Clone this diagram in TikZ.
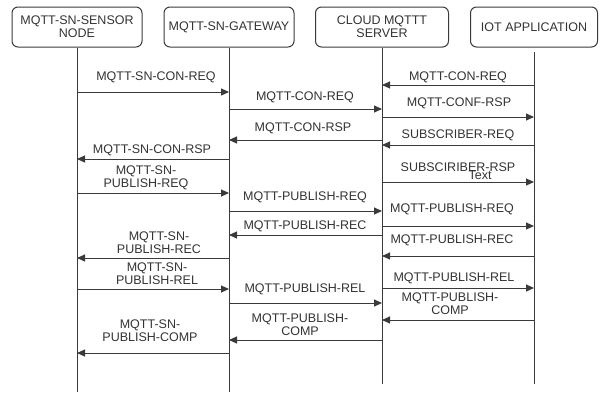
\documentclass[tikz,border=0pt]{standalone}
\usepackage{fontspec}
\setmainfont{Liberation Sans}
\usetikzlibrary{arrows.meta}
\definecolor{ink}{HTML}{3A3A3A}
\definecolor{txt}{HTML}{333333}

% one message: name, from lifeline, to lifeline, y, label x, label y, label text
\newcommand\msg[7]{%
  \draw[msgline] (#2 |- 0,#4) -- (#3 |- 0,#4);
  \node[lbl] (#1) at (#5,#6) {#7};}

\begin{document}
\begin{tikzpicture}[x=1pt,y=-1pt,
  actor/.style={draw=ink, line width=1pt, rounded corners=6pt, minimum height=40pt,
    inner sep=0pt, align=center, text=txt, font=\fontsize{12.5}{13}\selectfont},
  life/.style={draw=ink, line width=1pt},
  msgline/.style={draw=ink, line width=1pt, -{Triangle[length=8pt,width=7pt]}},
  lbl/.style={inner sep=0pt, align=center, text=txt, font=\fontsize{12.5}{13}\selectfont}]
\useasboundingbox (0,0) rectangle (600,392);

% participants
\node[actor, minimum width=130pt] (b1) at (77,27)    {MQTT-SN-SENSOR\\NODE};
\node[actor, minimum width=130pt] (b2) at (229,27)   {MQTT-SN-GATEWAY};
\node[actor, minimum width=133pt] (b3) at (382,27)   {CLOUD MQTTT\\SERVER};
\node[actor, minimum width=127pt] (b4) at (534,27)   {IOT APPLICATION};

% lifelines
\draw[life] (b1.south) -- (b1 |- 0,392);
\draw[life] (b2.south) -- (b2 |- 0,392);
\draw[life] (b3.south) -- (b3 |- 0,384);
\draw[life] ([yshift=-4pt]b4.south) -- (b4 |- 0,384);

% messages
\msg{m1}{b1}{b2}{92}{156}{77}{MQTT-SN-CON-REQ}
\msg{m2}{b4}{b3}{85}{458}{77}{MQTT-CON-REQ}
\msg{m3}{b2}{b3}{109}{305}{97}{MQTT-CON-REQ}
\msg{m4}{b3}{b4}{117}{459}{103}{MQTT-CONF-RSP}
\msg{m5}{b3}{b2}{140}{303}{128}{MQTT-CON-RSP}
\msg{m6}{b4}{b3}{145}{458}{135}{SUBSCRIBER-REQ}
\msg{m7}{b2}{b1}{159}{152}{150}{MQTT-SN-CON-RSP}
\msg{m8}{b1}{b2}{193}{146}{178}{MQTT-SN-\\PUBLISH-REQ}
\msg{m9}{b3}{b4}{182}{458}{167}{SUBSCIRIBER-RSP}
\node[lbl] (m9t) at (480,175) {Text};
\msg{m10}{b2}{b3}{211}{305}{197}{MQTT-PUBLISH-REQ}
\msg{m11}{b3}{b4}{226}{452}{209}{MQTT-PUBLISH-REQ}
\msg{m12}{b3}{b2}{235}{305}{226}{MQTT-PUBLISH-REC}
\msg{m13}{b4}{b3}{256}{452}{240}{MQTT-PUBLISH-REC}
\msg{m14}{b2}{b1}{258}{159}{243}{MQTT-SN-\\PUBLISH-REC}
\msg{m15}{b1}{b2}{289}{157}{273.5}{MQTT-SN-\\PUBLISH-REL}
\msg{m16}{b3}{b4}{288}{454}{278}{MQTT-PUBLISH-REL}
\msg{m17}{b2}{b3}{303}{305}{289}{MQTT-PUBLISH-REL}
\msg{m18}{b4}{b3}{320}{450}{303.5}{MQTT-PUBLISH-\\COMP}
\msg{m19}{b3}{b2}{340}{300}{324.5}{MQTT-PUBLISH-\\COMP}
\msg{m20}{b2}{b1}{353}{150}{330.5}{MQTT-SN-\\PUBLISH-COMP}
\end{tikzpicture}
\end{document}
